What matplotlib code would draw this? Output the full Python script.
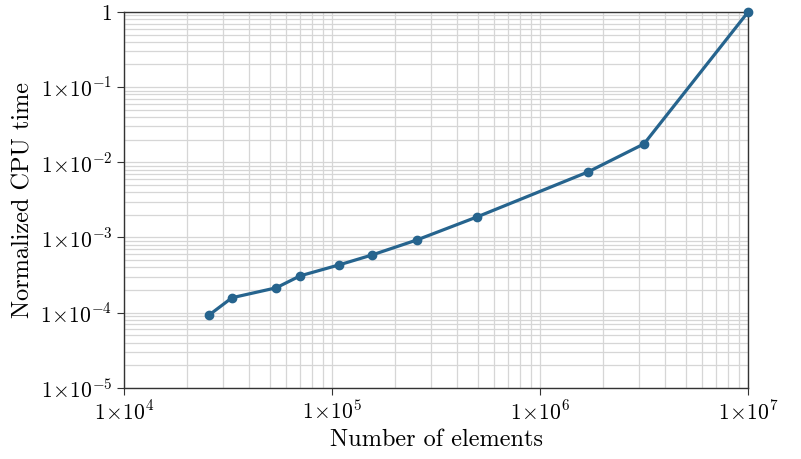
#!/usr/bin/env python3
"""Normalized CPU time vs number of elements (log-log)"""
import matplotlib
matplotlib.use('Agg')
import matplotlib.pyplot as plt
from matplotlib.ticker import FuncFormatter, LogLocator, NullFormatter
import numpy as np

plt.rcParams['font.family'] = ['cmr10', 'DejaVu Serif']
plt.rcParams['mathtext.fontset'] = 'cm'
plt.rcParams['axes.unicode_minus'] = False
plt.rcParams['axes.formatter.use_mathtext'] = True

# 数据
n_elements = [25600, 33000, 53800, 70200, 108000, 156000, 256000,
              498000, 1.70e6, 3.16e6, 1.0e7]
cpu_time = [9.3e-5, 1.58e-4, 2.14e-4, 3.09e-4, 4.32e-4, 5.87e-4, 9.29e-4,
            1.88e-3, 7.45e-3, 1.76e-2, 1.0]


def sci_fmt(v, pos):
    e = int(round(np.log10(v)))
    if e == 0:
        return r'$1$'
    return r'$1\!\times\!10^{%d}$' % e


fig, ax = plt.subplots(figsize=(8.01, 4.59), dpi=100)
fig.subplots_adjust(left=0.155, right=0.934, top=0.974, bottom=0.155)

ax.plot(n_elements, cpu_time, '-o', color='#26648e', lw=2.3, ms=6,
        clip_on=False, zorder=3)

ax.set_xscale('log')
ax.set_yscale('log')
ax.set_xlim(1e4, 1e7)
ax.set_ylim(1e-5, 1)

ax.xaxis.set_major_locator(LogLocator(base=10, numticks=10))
ax.yaxis.set_major_locator(LogLocator(base=10, numticks=10))
ax.xaxis.set_minor_locator(LogLocator(base=10, subs=np.arange(2, 10), numticks=20))
ax.yaxis.set_minor_locator(LogLocator(base=10, subs=np.arange(2, 10), numticks=20))
ax.xaxis.set_major_formatter(FuncFormatter(sci_fmt))
ax.yaxis.set_major_formatter(FuncFormatter(sci_fmt))
ax.xaxis.set_minor_formatter(NullFormatter())
ax.yaxis.set_minor_formatter(NullFormatter())

ax.grid(True, which='both', color='#d6d6d6', lw=0.9)
ax.set_axisbelow(True)
ax.tick_params(which='minor', length=0)
ax.tick_params(which='major', length=5, color='#333333', labelsize=15.5, direction='out')

for s in ax.spines.values():
    s.set_color('#333333')
    s.set_linewidth(1.0)

ax.set_xlabel('Number of elements', fontsize=17.5)
ax.set_ylabel('Normalized CPU time', fontsize=17.5)

plt.savefig('out.png', dpi=100, facecolor='white')
plt.close()
